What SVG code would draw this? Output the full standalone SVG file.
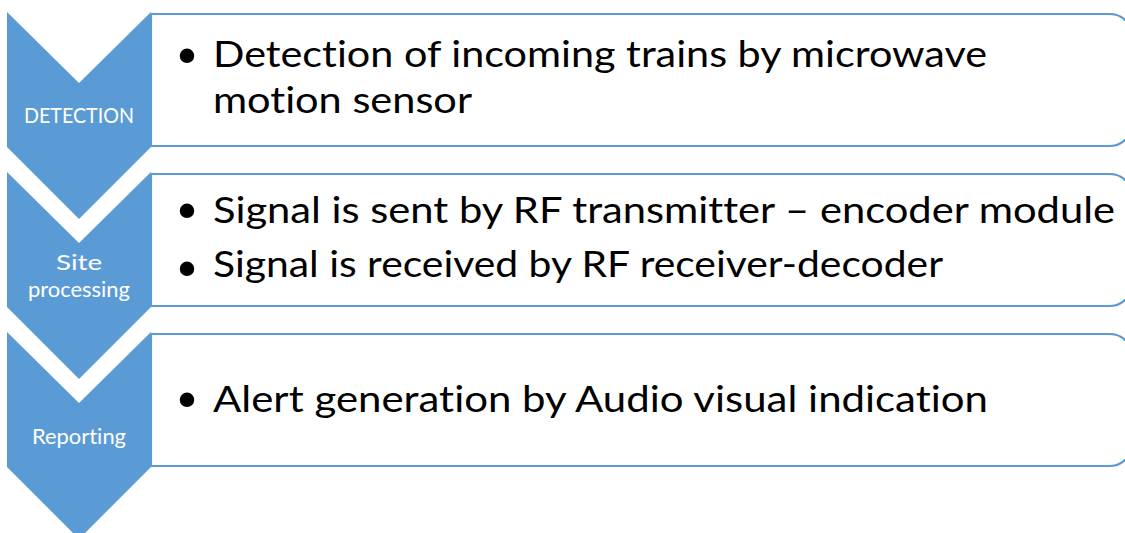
<svg xmlns="http://www.w3.org/2000/svg" width="1125" height="533" viewBox="0 0 1125 533">
  <style>
    .panel { fill: #ffffff; stroke: #5b9bd5; stroke-width: 2.2; }
    .chev { fill: #5b9bd5; }
    .step { fill: #ffffff; font-family: "Lato", "Liberation Sans", sans-serif; font-size: 21px; text-anchor: middle; font-variant-ligatures: none; }
    .item { fill: #000000; font-family: "Lato", "Liberation Sans", sans-serif; font-size: 36px; font-variant-ligatures: none; }
    .dot { fill: #000000; font-family: "DejaVu Sans", sans-serif; font-size: 50px; text-anchor: middle; }
  </style>
  <rect width="1125" height="533" fill="#ffffff"/>

  <!-- Stage 1 -->
  <g id="detection">
    <path class="panel" d="M151,14 H1110 A22,22 0 0 1 1132,36 V124 A22,22 0 0 1 1110,146 H151 Z"/>
    <polygon class="chev" points="7,12 79,83 151,12 151,147 79,219 7,147"/>
    <text class="step" x="79" y="123" textLength="110" lengthAdjust="spacingAndGlyphs">DETECTION</text>
    <text class="dot" x="187" y="74">•</text>
    <text class="item" x="213" y="67" textLength="774" lengthAdjust="spacingAndGlyphs">Detection of incoming trains by microwave</text>
    <text class="item" x="213" y="113" textLength="259" lengthAdjust="spacingAndGlyphs">motion sensor</text>
  </g>

  <!-- Stage 2 -->
  <g id="site-processing">
    <path class="panel" d="M151,174 H1110 A22,22 0 0 1 1132,196 V284 A22,22 0 0 1 1110,306 H151 Z"/>
    <polygon class="chev" points="7,172 79,243 151,172 151,307 79,379 7,307"/>
    <text class="step" x="79" y="270" textLength="46" lengthAdjust="spacingAndGlyphs">Site</text>
    <text class="step" x="79" y="297" textLength="102" lengthAdjust="spacingAndGlyphs">processing</text>
    <text class="dot" x="187" y="229">•</text>
    <text class="item" x="213" y="223" textLength="902" lengthAdjust="spacingAndGlyphs">Signal is sent by RF transmitter – encoder module</text>
    <text class="dot" x="187" y="287">•</text>
    <text class="item" x="213" y="277" textLength="730" lengthAdjust="spacingAndGlyphs">Signal is received by RF receiver-decoder</text>
  </g>

  <!-- Stage 3 -->
  <g id="reporting">
    <path class="panel" d="M151,334 H1110 A22,22 0 0 1 1132,356 V444 A22,22 0 0 1 1110,466 H151 Z"/>
    <polygon class="chev" points="7,332 79,403 151,332 151,467 79,539 7,467"/>
    <text class="step" x="79" y="444" textLength="94" lengthAdjust="spacingAndGlyphs">Reporting</text>
    <text class="dot" x="187" y="418">•</text>
    <text class="item" x="213" y="412" textLength="775" lengthAdjust="spacingAndGlyphs">Alert generation by Audio visual indication</text>
  </g>

  <g id="connectors"/>
</svg>
